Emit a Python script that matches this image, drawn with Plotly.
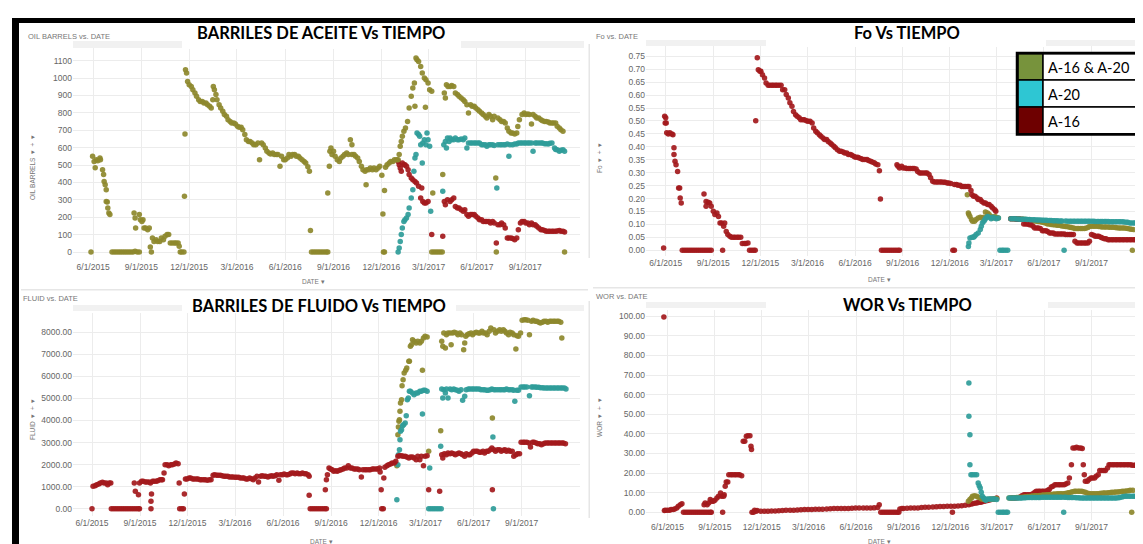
import plotly.graph_objects as go
import pandas as pd

BASE = pd.Timestamp("2015-06-01")
W, H = 1143, 544

# ---------------- DATA (day offset from 6/1/2015, value) ----------------
OIL_TOTAL = [(-4,0),(-1,550),(2,520),(4,485),(6,530),(9,525),(13,540),(14,530),(18,473),(20,445),(21,406),(23,387),(25,358),(25,291),(27,287),(28,253),(30,224),(32,215),
(36,0),(40,0),(44,0),(48,0),(52,0),(56,0),(60,0),(64,0),(68,0),(72,0),(76,0),(80,5),(84,0),(88,0),
(78,224),(80,195),(81,138),(88,215),(90,186),(93,176),(95,186),(97,138),(100,138),(104,128),(107,138),(109,29),(111,0),(113,80),(116,61),(120,71),(123,61),(127,61),(130,80),(134,71),(137,90),(141,100),(144,100),(147,52),(151,52),(155,52),(158,52),(162,52),(164,33),(166,0),(169,0),(173,0),
(174,320),(175,678),(176,1048),(178,1029),(180,981),(183,962),(187,952),(190,933),(194,914),(197,895),(201,876),(204,866),(208,866),(211,857),(215,857),(218,847),(222,838),(225,828),(228,876),(229,952),(231,933),(234,905),(236,876),(240,847),(243,828),(247,809),(250,790),(254,780),(257,761),(261,751),(264,742),(268,742),(271,736),(275,723),(278,717),(282,717),(285,703),(289,675),(292,646),(296,636),(299,636),(303,627),(306,617),(310,617),(314,627),(317,531),(321,627),(324,617),(328,598),(331,579),(335,569),(338,563),(342,569),(345,560),(349,560),(352,560),(356,493),(359,550),(363,531),(366,531),(370,540),(373,560),(377,550),(380,560),(384,560),(387,550),(391,550),(394,540),(398,531),(402,521),(405,512),(409,490),(412,464),(414,123),
(416,0),(420,0),(424,0),(428,0),(432,0),(436,0),(440,0),(444,0),(447,0),
(447,339),(450,493),(451,579),(453,598),(455,560),(458,579),(461,550),(465,531),(469,521),(472,540),(476,550),(479,560),(483,569),(486,560),(490,646),(493,617),(493,560),(497,560),(500,550),(504,540),(507,521),(511,493),(514,473),(518,464),(520,387),(521,473),(525,473),(528,483),(532,473),(535,483),(539,473),(543,483),(546,493),(550,441),(552,218),(553,0),(555,0),(555,353),(557,487),(560,502),(564,512),(567,521),(571,521),(574,531),(578,531),(581,531),(583,560),(585,608),(587,636),(589,665),(592,694),(595,713),(599,751),(602,828),(606,895),(609,943),(612,972),(613,838),(615,1115),(617,1106),(620,1096),(624,1067),(627,1029),(631,1000),(633,832),(634,991),(638,972),(641,933),(645,924),
(645,0),(649,0),(653,0),(657,0),(661,0),(665,0),(647,339),
(666,445),(669,914),(671,885),(673,962),(676,952),(680,952),(683,958),(687,952),(690,914),(694,905),(697,895),(701,885),(705,876),(708,866),(712,847),(715,799),(719,847),(722,838),(726,838),(729,828),(733,818),(736,809),(740,799),(743,790),(747,780),(750,770),(754,790),(757,780),(761,761),(764,780),(767,425),(768,0),(771,770),(775,761),(778,751),(782,751),(785,742),(789,713),(792,694),(796,684),(799,684),(803,678),(807,684),(809,722),(812,761),(817,790),(821,799),(824,790),(828,793),(831,790),(835,736),(838,790),(842,780),(845,770),(849,770),(853,761),(856,755),(860,751),(863,751),(867,747),(870,742),(874,742),(877,742),(881,742),(884,723),(888,713),(891,703),(895,694),(898,0)]

OIL_A20 = [(581,0),(583,23),(585,61),(587,100),(589,138),(592,176),(594,186),(597,195),(600,215),(602,253),(606,310),(609,358),(611,464),(613,540),(615,560),(617,684),(620,675),(622,665),(624,617),(627,512),(628,627),(631,646),(634,617),(636,684),(638,646),(641,608),(643,234),(666,349),(668,617),(671,636),(673,598),(675,655),(678,636),(680,655),(683,646),(687,646),(690,655),(694,646),(697,646),(701,650),(705,646),(708,655),(712,598),(715,627),(719,627),(722,627),(726,627),(729,627),(733,627),(736,627),(740,617),(743,617),(747,617),(750,608),(754,617),(757,617),(761,617),(764,613),(769,368),(771,617),(775,617),(778,617),(782,617),(785,617),(789,621),(792,550),(794,617),(799,617),(803,621),(807,621),(810,627),(814,627),(817,627),(821,627),(824,627),(828,627),(831,627),(835,627),(838,579),(842,627),(845,627),(849,627),(853,627),(856,627),(860,623),(863,623),(867,621),(870,625),(874,627),(879,598),(881,590),(884,588),(888,579),(891,585),(895,588),(898,579)]

OIL_A16 = [(581,521),(583,502),(585,483),(587,464),(589,512),(592,502),(594,502),(597,493),(600,473),(602,445),(606,425),(609,416),(613,406),(616,397),(620,378),(624,310),(626,368),(628,291),(631,282),(634,282),(638,291),(645,100),(666,90),(669,291),(671,272),(675,301),(680,291),(683,301),(687,310),(690,262),(694,253),(697,253),(701,243),(705,234),(708,243),(712,215),(715,205),(719,215),(722,215),(726,215),(729,205),(733,195),(736,186),(740,186),(743,176),(747,176),(750,176),(754,176),(757,167),(761,176),(764,167),(768,52),(771,157),(775,157),(778,167),(782,157),(785,138),(789,80),(792,80),(796,80),(799,77),(803,71),(807,80),(810,128),(814,167),(817,176),(821,176),(824,167),(828,167),(831,157),(835,167),(838,157),(842,157),(845,148),(849,138),(853,128),(856,128),(860,123),(863,119),(867,119),(870,119),(874,119),(877,119),(881,119),(884,121),(888,123),(891,119),(895,119),(898,115)]

FO_A16 = [(-4,0.009),(-2,0.518),(-1,0.492),(0,0.512),(1,0.492),(2,0.454),(5,0.45),(8,0.454),(12,0.45),(14,0.447),(16,0.396),(16,0.37),(18,0.344),(20,0.331),(23,0.305),(25,0.241),(27,0.241),(28,0.202),(30,0.183),
(32,0),(36,0),(40,0),(44,0),(48,0),(52,0),(56,0),(60,0),(64,0),(68,0),(72,0),(76,0),(80,0),(84,0),(88,0),
(74,0.218),(78,0.17),(78,0.189),(82,0.186),(85,0.183),(88,0.17),(92,0.151),(95,0.138),(99,0.144),(102,0.131),(105,0.106),(108,0.106),(110,0),(112,0.093),(114,0.106),(117,0.073),(120,0.061),(124,0.054),(127,0.05),(131,0.05),(134,0.05),(138,0.05),(141,0.05),(145,0.05),(148,0.026),(152,0.026),(155,0.026),(159,0.028),(162,0),(166,0),(170,0),(173,0),
(174,0.501),(177,0.744),(179,0.698),(182,0.692),(184,0.692),(187,0.679),(191,0.666),(194,0.647),(198,0.638),(201,0.638),(205,0.638),(208,0.638),(212,0.638),(215,0.638),(219,0.638),(223,0.638),(226,0.621),(230,0.621),(233,0.602),(237,0.589),(240,0.57),(244,0.557),(247,0.537),(251,0.524),(254,0.518),(258,0.512),(261,0.505),(265,0.505),(268,0.505),(272,0.501),(275,0.499),(279,0.499),(283,0.492),(286,0.473),(290,0.46),(293,0.454),(297,0.447),(300,0.441),(304,0.434),(307,0.428),(311,0.428),(314,0.421),(318,0.415),(321,0.409),(325,0.402),(328,0.396),(332,0.389),(336,0.383),(339,0.383),(343,0.38),(346,0.376),(350,0.376),(353,0.37),(357,0.37),(360,0.367),(364,0.363),(367,0.36),(371,0.36),(374,0.357),(378,0.354),(381,0.351),(385,0.351),(389,0.351),(392,0.347),(396,0.344),(399,0.341),(403,0.338),(406,0.334),(410,0.331),(413,0.308),(415,0.198),
(417,0),(421,0),(425,0),(429,0),(433,0),(437,0),(441,0),(445,0),(449,0),(452,0),
(447,0.331),(449,0.325),(452,0.318),(456,0.325),(459,0.318),(463,0.318),(466,0.316),(470,0.316),(473,0.316),(477,0.316),(480,0.316),(484,0.314),(487,0.305),(491,0.299),(494,0.299),(498,0.299),(502,0.299),(505,0.299),(509,0.293),(512,0.28),(516,0.267),(519,0.264),(523,0.264),(526,0.264),(530,0.264),(533,0.264),(537,0.263),(540,0.263),(544,0.26),(547,0.26),(551,0.258),(555,0),(558,0),(558,0.254),(562,0.254),(565,0.251),(569,0.251),(572,0.247),(576,0.247),(579,0.247),(583,0.247),(586,0.247),(590,0.231),(592,0.215),(595,0.209),(598,0.209),(602,0.202),(604,0.196),(608,0.196),(611,0.189),(615,0.183),(618,0.183),(622,0.177),(625,0.177),(629,0.17),(632,0.164),(636,0.157),(638,0.151),
(667,0.122),(671,0.122),(675,0.122),(678,0.12),(682,0.12),(685,0.12),
(689,0.119),(692,0.102),(696,0.102),(699,0.102),(703,0.099),(706,0.099),(710,0.093),(713,0.086),(717,0.086),(720,0.086),(724,0.084),(728,0.076),(731,0.076),(735,0.076),(738,0.073),(742,0.067),(745,0.067),(749,0.067),(752,0.063),(756,0.063),(759,0.063),(763,0.063),(766,0.063),(770,0.063),(773,0.061),(777,0.061),(781,0.061),(784,0.061),(788,0.061),(791,0.035),(795,0.028),(798,0.028),(802,0.028),(805,0.028),(809,0.028),(812,0.028),(816,0.028),(819,0.035),(823,0.061),(827,0.058),(830,0.054),(834,0.054),(837,0.054),(841,0.05),(844,0.048),(848,0.045),(851,0.045),(855,0.041),(858,0.041),(862,0.041),(865,0.041),(869,0.041),(872,0.041),(876,0.041),(879,0.041),(883,0.041),(886,0.041),(890,0.041),(893,0.041),(897,0.041),(900,0.041),(904,0.041),(907,0.041),(911,0.041)]

FO_TOTAL = [(583,0.215),(585,0.144),(586,0.138),(588,0.131),(591,0.119),(593,0.112),(597,0.112),(600,0.119),(604,0.125),(608,0.128),(611,0.125),(615,0.128),(618,0.148),(622,0.144),(625,0.138),(629,0.131),(632,0.125),(636,0.131),(639,0.128),(643,0.125),
(667,0.122),(671,0.122),(675,0.122),(678,0.122),(682,0.121),(685,0.121),(689,0.12),(692,0.12),(696,0.119),(699,0.118),(703,0.117),(706,0.115),(710,0.114),(713,0.113),(717,0.112),(720,0.111),(724,0.11),(728,0.108),(731,0.107),(735,0.105),(738,0.102),(742,0.102),(745,0.1),(749,0.099),(752,0.099),(756,0.097),(759,0.097),(763,0.096),(766,0.094),(770,0.093),(773,0.092),(777,0.091),(781,0.089),(784,0.088),(788,0.086),(791,0.084),(795,0.084),(798,0.084),(802,0.084),(805,0.084),(809,0.084),(812,0.085),(816,0.088),(819,0.092),(823,0.093),(827,0.093),(830,0.093),(834,0.093),(837,0.092),(841,0.091),(844,0.09),(848,0.09),(851,0.09),(855,0.09),(858,0.089),(862,0.089),(865,0.089),(869,0.088),(872,0.087),(876,0.086),(879,0.086),(883,0.086),(886,0.086),(890,0.085),(893,0.084),(897,0.082),(900,0.081),(902,0),(904,0.08)]

FO_A20 = [(585,0.015),(586,0.028),(588,0.048),(592,0.05),(595,0.05),(597,0.054),(600,0.061),(604,0.067),(608,0.08),(610,0.093),(612,0.106),(615,0.112),(617,0.119),(619,0.125),(622,0.131),(625,0.128),(629,0.122),(632,0.128),(636,0.125),(639,0.122),(643,0.125),(646,0),(650,0),(653,0),(657,0),(661,0),
(667,0.122),(671,0.122),(675,0.122),(678,0.121),(682,0.121),(685,0.12),(689,0.12),(692,0.12),(696,0.12),(699,0.119),(703,0.119),(706,0.118),(710,0.118),(713,0.118),(717,0.117),(720,0.117),(724,0.117),(728,0.116),(731,0.116),(735,0.116),(738,0.115),(742,0.115),(745,0.115),(749,0.114),(752,0.114),(756,0.114),(759,0.113),(763,0.113),(766,0.113),(770,0),(773,0.113),(777,0.112),(781,0.112),(784,0.112),(788,0.112),(791,0.112),(795,0.112),(798,0.112),(802,0.112),(805,0.112),(809,0.112),(812,0.112),(816,0.112),(819,0.112),(823,0.112),(827,0.112),(830,0.111),(834,0.111),(837,0.111),(841,0.111),(844,0.111),(848,0.111),(851,0.111),(855,0.111),(858,0.11),(862,0.11),(865,0.11),(869,0.11),(872,0.11),(876,0.11),(879,0.11),(883,0.11),(886,0.109),(890,0.108),(893,0.108),(897,0.106),(900,0.106),(904,0.106),(907,0.106),(911,0.106)]

FLUID_A16 = [(0,0),(2,1013),(6,1043),(9,1089),(13,1119),(16,1164),(20,1194),(23,1164),(27,1164),(30,1089),(33,1164),(36,1164),
(37,0),(41,0),(45,0),(49,0),(53,0),(57,0),(61,0),(65,0),(69,0),(73,0),(77,0),(81,0),(85,0),(89,0),(91,0),
(81,1164),(83,786),(89,635),(91,1164),(95,1240),(98,1240),(102,1210),(105,1210),(109,1210),(112,1164),(113,333),(113,0),(114,665),(116,1240),(119,1240),(123,1240),(126,1270),(130,1315),(133,1315),(135,1315),(138,1618),(140,1996),(144,1996),(147,1950),(151,1996),(154,1996),(158,2026),(161,2071),(165,2041),(167,1164),(168,0),(172,0),(175,0),(177,665),
(179,1346),(182,1346),(186,1391),(189,1391),(193,1346),(196,1346),(200,1346),(203,1346),(207,1315),(210,1315),(214,1315),(217,1315),(221,1285),(225,1315),(228,1315),(232,1512),(235,1542),(239,1512),(242,1512),(246,1512),(249,1497),(253,1467),(256,1467),(260,1467),(263,1436),(267,1436),(270,1436),(274,1421),(277,1421),(281,1421),(284,1391),(288,1391),(291,1391),(295,1346),(298,1346),(302,1391),(305,1361),(309,1315),(312,1391),(316,1467),(319,1210),(323,1467),(326,1497),(330,1467),(333,1467),(337,1436),(340,1467),(344,1497),(347,1467),(351,1497),(354,1542),(358,1285),(361,1542),(365,1542),(368,1572),(372,1542),(375,1542),(379,1572),(382,1618),(386,1618),(389,1588),(393,1618),(396,1588),(400,1588),(403,1618),(407,1588),(410,1588),(414,1542),(416,1467),(416,605),
(418,0),(422,0),(426,0),(430,0),(434,0),(438,0),(442,0),(446,0),(449,0),
(447,862),(449,1315),(451,1542),(454,1845),(457,1799),(460,1769),(463,1693),(467,1724),(470,1693),(474,1739),(477,1769),(481,1799),(484,1845),(488,1845),(491,1950),(495,1845),(498,1845),(502,1799),(505,1799),(509,1799),(512,1769),(516,1436),(519,1769),(523,1769),(526,1769),(530,1769),(533,1769),(537,1799),(540,1799),(544,1799),(547,1799),(551,1845),(552,1663),(554,862),(555,0),(558,0),(559,1391),(561,1875),(565,1950),(568,1996),(572,2026),(575,2071),(579,2071),(582,2147),(586,2374),(589,2404),(593,2404),(596,2374),(600,2374),(603,2344),(607,2298),(610,2344),(614,2344),(617,2298),(621,2223),(624,2374),(628,2223),(631,2374),(635,1950),(638,2374),(642,2404),(645,862),(666,786),
(670,2449),(672,2298),(675,2495),(679,2449),(682,2525),(686,2495),(689,2525),(693,2495),(696,2449),(700,2495),(703,2525),(707,2495),(710,2449),(714,2374),(717,2495),(721,2449),(724,2449),(728,2525),(731,2601),(735,2601),(738,2601),(742,2555),(745,2555),(749,2601),(752,2525),(756,2601),(759,2601),(763,2676),(766,2752),(767,862),(770,2676),(773,2601),(777,2676),(781,2676),(784,2601),(788,2646),(791,2676),(794,2601),(798,2646),(801,2601),(805,2601),(808,2374),(812,2449),(815,2495),(819,2495),(822,3009),(826,3009),(829,3009),(833,3009),(837,2979),(840,2797),(844,3009),(847,3009),(851,2979),(854,2948),(858,2948),(861,2903),(865,2948),(868,2979),(872,2979),(875,2979),(879,2979),(882,2979),(886,2979),(889,2979),(893,2979),(896,2979),(900,2979),(903,2979),(907,2948)]

FLUID_TOTAL = [(584,1950),(586,3357),(587,3705),(588,3961),(589,4037),(590,4415),(591,4793),(593,4944),(594,5579),(596,5851),(598,6154),(601,6275),(603,6381),(607,6683),(608,6683),(610,7363),(612,7439),(614,7666),(617,7590),(621,7515),(624,7590),(628,7515),(631,7590),(633,6275),(635,7741),(638,7817),(642,7787),(645,2601),(668,3538),(670,7590),(672,7363),(674,7968),(677,7288),(679,7893),(682,7968),(686,7968),(688,7439),(691,7968),(694,7998),(698,7968),(701,7893),(705,7968),(708,7893),(712,7212),(714,7515),(716,7817),(719,7893),(722,7938),(726,7968),(729,7893),(733,7968),(736,7998),(740,7968),(743,7968),(747,8044),(750,7968),(754,7968),(757,7893),(761,8044),(764,8195),(767,4113),(770,8119),(773,7968),(777,8044),(781,8119),(784,8044),(788,8119),(791,8044),(794,7968),(798,7893),(801,7998),(805,7968),(808,7893),(812,7242),(814,7847),(817,7817),(821,7968),(824,8543),(828,8573),(831,8573),(835,8543),(838,7893),(842,8497),(845,8543),(849,8497),(852,8497),(856,8452),(859,8422),(863,8452),(866,8497),(870,8497),(873,8452),(877,8497),(880,8497),(884,8497),(887,8497),(891,8497),(894,8497),(898,8452),(900,7741)]

FLUID_A20 = [(584,408),(586,1996),(587,2449),(589,2676),(590,3130),(591,3508),(593,3584),(595,3765),(597,3810),(600,3886),(602,4218),(604,4944),(606,5020),(608,5322),(610,5322),(614,5247),(617,5171),(621,5247),(624,5247),(628,5322),(631,5322),(633,4294),(635,5368),(638,5368),(642,5322),(645,0),(649,0),(653,0),(657,0),(661,0),(665,0),(669,0),(647,1845),(668,2828),(670,5428),(672,5020),(674,5398),(677,5247),(679,5428),(682,5020),(686,5428),(689,5398),(693,5428),(696,5398),(700,5368),(703,5322),(707,5398),(710,4914),(714,5096),(717,5398),(721,5428),(724,5428),(728,5428),(731,5428),(735,5428),(738,5428),(742,5428),(745,5398),(749,5398),(752,5398),(756,5368),(759,5368),(763,5398),(766,5428),(768,3251),(769,0),(770,5398),(773,5398),(777,5398),(781,5398),(784,5398),(788,5398),(791,5398),(794,5428),(798,5398),(801,5398),(805,5398),(808,5368),(810,4869),(814,5368),(817,5368),(822,5519),(826,5519),(829,5519),(833,5519),(838,5126),(842,5519),(845,5519),(849,5519),(852,5504),(856,5504),(859,5489),(863,5489),(866,5474),(870,5474),(873,5474),(877,5474),(880,5474),(884,5474),(887,5474),(891,5474),(894,5474),(898,5474),(901,5474),(905,5474),(908,5428)]

WOR_A16 = [(-7,99.7),(-6,0.9),(-4,1.0),(0,1.0),(4,1.0),(7,1.4),(11,1.4),(14,1.7),(18,2.2),(21,3.1),(25,3.9),(28,4.4),
(31,0),(35,0),(39,0),(43,0),(47,0),(51,0),(55,0),(59,0),(63,0),(67,0),(71,0),(75,0),(79,0),(83,0),(85,0),
(71,3.9),(73,4.8),(77,3.9),(80,4.8),(83,6.5),(86,5.6),(89,5.6),(92,6.1),(96,7.3),(99,8.2),(103,9.9),(105,8.2),(107,0),(109,8.2),(110,9.0),(112,13.3),(114,15.5),(117,15.5),(119,19.2),(123,19.2),(126,19.2),(130,19.2),(133,19.2),(137,19.2),(140,19.2),(144,18.7),(147,36.2),(150,36.2),(153,38.8),(156,39.1),(160,39.1),(162,33.7),(163,32.0),(164,0),(167,0),(169,1.0),(172,0.5),(174,0.9),
(181,0.5),(188,0.5),(195,0.5),(202,0.6),(209,0.7),(216,0.8),(223,0.9),(230,1.0),(238,1.0),(245,1.1),(252,1.2),(259,1.3),(266,1.4),(273,1.4),(280,1.4),(287,1.5),(294,1.5),(301,1.6),(309,1.7),(316,1.8),(323,1.9),(330,2.0),(337,2.0),(344,2.0),(351,2.0),(358,2.1),(365,2.2),(372,2.2),(380,2.2),(387,2.2),(394,2.2),(401,2.3),(408,2.4),(411,3.9),
(414,0),(418,0),(422,0),(426,0),(430,0),(434,0),(438,0),(442,0),(446,0),(449,0),
(451,1.7),(455,2.0),(458,2.0),(465,2.1),(472,2.2),(479,2.2),(486,2.2),(493,2.4),(500,2.6),(507,2.6),(515,2.7),(522,2.8),(529,2.9),(536,3.0),(543,3.1),(550,3.1),(553,0),(557,3.1),(564,3.2),(571,3.4),(578,3.6),(585,3.9),(589,4.2),(592,4.4),(596,4.6),(600,4.8),(603,5.0),(607,5.1),(610,5.3),(614,5.6),(617,5.8),(621,6.0),(625,6.3),(628,6.5),(632,6.7),(635,6.8),(639,7.3),
(667,7.3),(671,7.3),(675,7.3),(678,7.4),(682,7.5),
(685,7.8),(688,8.5),(692,9.0),(695,9.0),(699,9.0),(702,9.0),(706,9.0),(709,9.5),(713,10.2),(716,10.7),(720,10.7),(723,10.7),(727,10.7),(730,10.7),(734,10.7),(738,11.2),(741,11.6),(745,12.9),(748,13.3),(752,14.1),(755,14.1),(759,14.1),(762,14.1),(766,14.1),(770,14.1),(773,14.5),(777,15.0),(780,17.5),(784,24.3),(787,32.8),(791,32.8),(794,33.2),(798,32.8),(802,32.8),(805,32.5),(807,24.3),(809,19.2),(811,15.8),(815,15.8),(818,16.7),(822,17.5),(825,17.5),(829,17.5),(832,18.4),(836,19.2),(839,21.3),(843,21.3),(847,21.3),(850,21.3),(854,22.6),(857,24.3),(860,24.3),(864,24.3),(867,24.3),(871,24.3),(874,24.3),(878,24.3),(881,24.3),(885,24.3),(888,24.3),(892,24.3),(895,24.3),(899,24.3),(902,24.0),(906,24.0),(909,24.0),(912,24.0)]

WOR_A20 = [(585,66),(585,49),(587,39.6),(587,24.3),(589,19.2),(592,19.2),(596,19.2),(600,19.2),(603,15.0),(605,13.6),(607,12.4),(609,10.2),(611,8.2),(614,7.3),(616,6.5),(618,6.1),(621,6.8),(625,6.8),(628,6.8),(632,6.8),(635,6.8),(639,6.5),(642,0),(646,0),(650,0),(653,0),(657,0),(660,0),
(663,7.3),(667,7.3),(671,7.3),(674,7.3),(678,7.3),(681,7.3),(685,7.3),(688,7.3),(692,7.4),(695,7.4),(699,7.5),(702,7.5),(706,7.5),(709,7.5),(713,7.6),(716,7.6),(720,7.6),(723,7.6),(727,7.7),(730,7.7),(734,7.7),(737,7.7),(741,7.7),(744,7.7),(748,7.7),(751,7.7),(755,7.7),(758,7.7),(762,7.7),(765,7.7),(769,0),(770,7.7),(773,7.7),(777,7.6),(780,7.6),(784,7.5),(787,7.5),(791,7.5),(794,7.4),(798,7.4),(801,7.3),(805,7.3),(808,7.3),(812,7.3),(815,7.3),(819,7.3),(822,7.3),(826,7.3),(829,7.3),(833,7.3),(836,7.3),(840,7.3),(843,7.3),(847,7.3),(850,7.3),(854,7.3),(857,7.3),(861,7.3),(864,7.3),(868,7.3),(871,7.3),(875,7.4),(878,7.6),(882,7.8),(885,8.0),(889,8.2),(892,8.2),(896,8.2),(899,8.2),(903,8.2),(906,8.2),(910,8.2),(912,8.2)]

WOR_TOTAL = [(584,5.6),(587,6.5),(590,7.3),(592,8.2),(596,8.5),(600,8.2),(603,7.7),(607,7.3),(610,6.8),(614,6.5),(617,6.5),(621,6.5),(625,6.6),(628,6.7),(632,6.8),(635,6.8),(639,7.0),
(663,7.3),(667,7.3),(671,7.4),(674,7.4),(678,7.5),(681,7.5),(685,7.6),(688,7.7),(692,7.8),(695,7.9),(699,8.0),(702,8.1),(706,8.2),(709,8.3),(713,8.4),(716,8.5),(720,8.5),(723,8.6),(727,8.7),(730,8.8),(734,8.8),(737,8.9),(741,9.0),(744,9.1),(748,9.2),(751,9.3),(755,9.4),(758,9.5),(762,9.5),(765,9.5),(769,9.5),(772,9.6),(776,9.8),(779,10.0),(783,10.2),(786,10.5),(790,10.7),(793,10.7),(797,10.7),(800,10.7),(804,10.7),(807,10.5),(811,10.2),(814,9.9),(818,9.6),(821,9.5),(825,9.5),(828,9.5),(832,9.5),(835,9.5),(839,9.6),(842,9.7),(846,9.8),(849,9.9),(853,9.9),(856,10.0),(860,10.1),(863,10.2),(867,10.2),(870,10.3),(874,10.4),(877,10.5),(881,10.6),(884,10.7),(888,10.8),(891,10.9),(895,11.0),(898,11.2),(901,0),(903,11.2)]

# tick labels
X_TICK_DATES = ["2015-06-01","2015-09-01","2015-12-01","2016-03-01","2016-06-01","2016-09-01",
                "2016-12-01","2017-03-01","2017-06-01","2017-09-01"]
X_TICK_TEXT = ["6/1/2015","9/1/2015","12/1/2015","3/1/2016","6/1/2016","9/1/2016",
               "12/1/2016","3/1/2017","6/1/2017","9/1/2017"]
OIL_TICKS = [0,100,200,300,400,500,600,700,800,900,1000,1100]
FO_TICKS = [0,0.05,0.10,0.15,0.20,0.25,0.30,0.35,0.40,0.45,0.50,0.55,0.60,0.65,0.70,0.75]
FLUID_TICKS = [0,1000,2000,3000,4000,5000,6000,7000,8000]
WOR_TICKS = [0,10,20,30,40,50,60,70,80,90,100]

LEGEND_LABELS = ["A-16 & A-20", "A-20", "A-16"]
LEGEND_COLORS = ["#77933c", "#2ec6d3", "#6e0000"]

C_TOT = "#8d882c"
C_A20 = "#2f9c99"
C_A16 = "#a3191c"

# ---------------- FIGURE ----------------
fig = go.Figure()

def px_x(p): return p / W
def px_y(p): return 1 - p / H

panels = [
    dict(ax="", L=65, R=572, T=40, B=252, xj=85.1, ppd=0.525, y0=244.0, y1=52.7, v1=1100,
         ticks=OIL_TICKS, ttxt=[str(t) for t in OIL_TICKS],
         series=[(OIL_A16, C_A16), (OIL_A20, C_A20), (OIL_TOTAL, C_TOT)]),
    dict(ax="2", L=638, R=1138, T=38, B=248, xj=657.7, ppd=0.5174, y0=242.3, y1=48.3, v1=0.75,
         ticks=FO_TICKS, ttxt=["%.2f" % t for t in FO_TICKS],
         series=[(FO_TOTAL, C_TOT), (FO_A16, C_A16), (FO_A20, C_A20)]),
    dict(ax="3", L=65, R=572, T=305, B=508, xj=84.0, ppd=0.5220, y0=500.7, y1=324.3, v1=8000,
         ticks=FLUID_TICKS, ttxt=["%.2f" % t for t in FLUID_TICKS],
         series=[(FLUID_TOTAL, C_TOT), (FLUID_A20, C_A20), (FLUID_A16, C_A16)]),
    dict(ax="4", L=638, R=1138, T=302, B=512, xj=659.5, ppd=0.5152, y0=504.3, y1=308.3, v1=100,
         ticks=WOR_TICKS, ttxt=["%.2f" % t for t in WOR_TICKS],
         series=[(WOR_A16, C_A16), (WOR_TOTAL, C_TOT), (WOR_A20, C_A20)]),
]

def day_to_str(d):
    return (BASE + pd.Timedelta(days=float(d))).strftime("%Y-%m-%d %H:%M:%S")

for p in panels:
    for pts, col in p["series"]:
        xs = [day_to_str(d) for d, v in pts]
        ys = [v for d, v in pts]
        fig.add_trace(go.Scatter(x=xs, y=ys, mode="markers", xaxis="x" + p["ax"], yaxis="y" + p["ax"],
                                 marker=dict(size=5.5, color=col, opacity=0.92, line=dict(width=0)),
                                 showlegend=False, hoverinfo="skip"))
    pxu = (p["y0"] - p["y1"]) / p["v1"]
    yr = [(p["y0"] - p["B"]) / pxu, (p["y0"] - p["T"]) / pxu]
    xr = [day_to_str((p["L"] - p["xj"]) / p["ppd"]), day_to_str((p["R"] - p["xj"]) / p["ppd"])]
    xa = dict(domain=[px_x(p["L"]), px_x(p["R"])], range=xr, type="date",
              tickvals=X_TICK_DATES, ticktext=X_TICK_TEXT, showgrid=True, gridcolor="#ececec",
              zeroline=False, showline=False, ticks="", anchor="y" + p["ax"],
              tickfont=dict(size=8.5, color="#666", family="Liberation Sans, Arial"))
    ya = dict(domain=[px_y(p["B"]), px_y(p["T"])], range=yr, tickvals=p["ticks"], ticktext=p["ttxt"],
              showgrid=True, gridcolor="#ececec", zeroline=False, showline=False, ticks="",
              anchor="x" + p["ax"], tickfont=dict(size=8.5, color="#666", family="Liberation Sans, Arial"))
    fig.layout["xaxis" + p["ax"]] = xa
    fig.layout["yaxis" + p["ax"]] = ya

shapes = []
annots = []

def rect(x0, y0, x1, y1, fill, line=None, lw=0, layer="above"):
    shapes.append(dict(type="rect", xref="paper", yref="paper", x0=px_x(x0), x1=px_x(x1),
                       y0=px_y(y1), y1=px_y(y0), fillcolor=fill,
                       line=dict(color=line or fill, width=lw), layer=layer))

def text(x, y, s, size, color="#777", family="Liberation Sans, Arial", xanchor="left", angle=0, bold=False):
    annots.append(dict(xref="paper", yref="paper", x=px_x(x), y=px_y(y), text=("<b>%s</b>" % s) if bold else s,
                       showarrow=False, xanchor=xanchor, yanchor="middle", textangle=angle,
                       font=dict(size=size, color=color, family=family)))

# header bands (toolbar strips) and divider lines
rect(65, 33, 576, 40, "#f1f1f1")
rect(638, 32, 1143, 38, "#f1f1f1")
rect(65, 297, 576, 303, "#f1f1f1")
rect(638, 294, 1143, 300, "#f1f1f1")
rect(13, 281, 580, 282.5, "#e6e6e6")
rect(585, 279, 1143, 280.5, "#e6e6e6")
rect(580.5, 36, 582, 250, "#e6e6e6")
rect(580.5, 293, 582, 510, "#e6e6e6")

# white boxes behind big titles
rect(174, 14, 453, 41, "white")
rect(758, 14, 1038, 39, "white")
rect(174, 283, 448, 304, "white")
rect(758, 281, 1040, 301, "white")

# black frame
rect(5, 10, 1143, 15, "black")
rect(4, 10, 11, 544, "black")

TFONT = "Lato, Liberation Sans"
text(313, 25, "BARRILES DE ACEITE Vs TIEMPO", 16.5, "black", TFONT, "center", bold=True)
text(899, 25, "Fo Vs TIEMPO", 16.5, "black", TFONT, "center", bold=True)
text(311, 298, "BARRILES DE FLUIDO Vs TIEMPO", 16.5, "black", TFONT, "center", bold=True)
text(899, 297, "WOR Vs TIEMPO", 16.5, "black", TFONT, "center", bold=True)

text(18, 28, "OIL BARRELS vs. DATE", 7.5)
text(586, 28, "Fo vs. DATE", 7.5)
text(13, 290, "FLUID vs. DATE", 7.5)
text(586, 288, "WOR vs. DATE", 7.5)

text(305, 273, "DATE ▾", 6.5, "#777", xanchor="center")
text(871, 271, "DATE ▾", 6.5, "#777", xanchor="center")
text(313, 533, "DATE ▾", 6.5, "#777", xanchor="center")
text(871, 533, "DATE ▾", 6.5, "#777", xanchor="center")

text(24, 160, "OIL BARRELS  ▾  +  ▾", 6.5, "#777", xanchor="center", angle=-90)
text(591, 150, "Fo  ▾  +  ▾", 6.5, "#777", xanchor="center", angle=-90)
text(24, 412, "FLUID  ▾  +  ▾", 6.5, "#777", xanchor="center", angle=-90)
text(591, 410, "WOR  ▾  +  ▾", 6.5, "#777", xanchor="center", angle=-90)

# legend table
rows_y = [45.7, 72.0, 99.0, 125.7]
for i, (lab, col) in enumerate(zip(LEGEND_LABELS, LEGEND_COLORS)):
    rect(1010, rows_y[i], 1035, rows_y[i + 1], col, "black", 1.5)
    rect(1035, rows_y[i], 1137, rows_y[i + 1], "white", "black", 1.5)
    text(1038, (rows_y[i] + rows_y[i + 1]) / 2 + 1, lab, 14.5, "black", "Lato, Liberation Sans")
rect(1009, 45, 1138, 126.5, "rgba(0,0,0,0)", "black", 2.5)

fig.update_layout(width=W, height=H, margin=dict(l=0, r=0, t=0, b=0),
                  paper_bgcolor="white", plot_bgcolor="white",
                  shapes=shapes, annotations=annots, showlegend=False)

fig.write_html("out.html")
